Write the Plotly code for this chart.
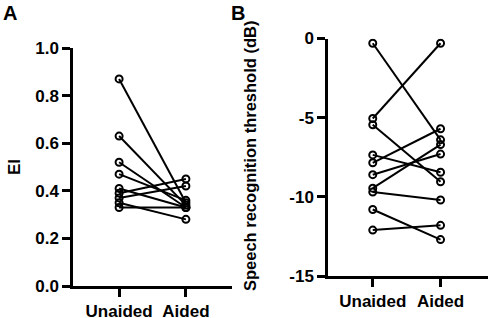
import plotly.graph_objects as go

conditions = ["Unaided", "Aided"]

# Panel A: EI per subject
ei_unaided = [0.87, 0.63, 0.52, 0.47, 0.41, 0.39, 0.37, 0.35, 0.33]
ei_aided = [0.35, 0.34, 0.33, 0.36, 0.33, 0.45, 0.42, 0.28, 0.33]

# Panel B: Speech recognition threshold (dB) per subject
srt_unaided = [-0.3, -5.05, -5.45, -7.35, -7.85, -8.6, -9.45, -9.7, -10.8, -12.1]
srt_aided = [-6.4, -0.3, -9.05, -8.45, -5.7, -7.3, -6.7, -10.2, -12.7, -11.8]

ei_ticks = [0, 0.2, 0.4, 0.6, 0.8, 1.0]
srt_ticks = [0, -5, -10, -15]

W, H = 489, 318
FONT = "Liberation Sans, Arial, sans-serif"

fig = go.Figure()

marker = dict(symbol="circle-open", size=7, color="black", line=dict(width=2, color="black"))

for u, a in zip(ei_unaided, ei_aided):
    fig.add_trace(go.Scatter(x=conditions, y=[u, a], mode="lines+markers",
                             line=dict(color="black", width=2), marker=marker,
                             xaxis="x", yaxis="y", showlegend=False))
for u, a in zip(srt_unaided, srt_aided):
    fig.add_trace(go.Scatter(x=conditions, y=[u, a], mode="lines+markers",
                             line=dict(color="black", width=2), marker=marker,
                             xaxis="x2", yaxis="y2", showlegend=False))

def px_x(p):
    return p / W

def px_y(p):
    return (H - p) / H

tickfont = dict(family=FONT, size=17, color="black")
axis_common = dict(showline=True, linecolor="black", linewidth=2.5, ticks="outside",
                   tickwidth=2.5, tickcolor="black", ticklen=8, showgrid=False,
                   zeroline=False, automargin=False, tickfont=tickfont)

xticktext = ["<b>%s</b>" % c for c in conditions]

def label(text, x, y, size, angle=0):
    return dict(text=text, x=px_x(x), y=px_y(y), xref="paper", yref="paper",
                xanchor="center", yanchor="middle", showarrow=False, textangle=angle,
                font=dict(family=FONT, size=size, color="black"))

fig.update_layout(
    width=W, height=H,
    margin=dict(l=0, r=0, t=0, b=0),
    paper_bgcolor="white", plot_bgcolor="white",
    font=dict(family=FONT, color="black"),
    xaxis=dict(domain=[px_x(73), px_x(232)], type="category", range=[-0.69, 1.69],
               tickvals=conditions, ticktext=xticktext, anchor="y", **axis_common),
    yaxis=dict(domain=[px_y(286), px_y(48)], range=[0, 1.0], tickvals=ei_ticks,
               ticktext=["<b>%.1f</b>" % v for v in ei_ticks], anchor="x", **axis_common),
    xaxis2=dict(domain=[px_x(328), px_x(488)], type="category", range=[-0.66, 1.7],
                tickvals=conditions, ticktext=xticktext, anchor="y2", **axis_common),
    yaxis2=dict(domain=[px_y(276), px_y(38.5)], range=[-15, 0], tickvals=srt_ticks,
                ticktext=["<b>%d</b>" % v for v in srt_ticks], anchor="x2", **axis_common),
    annotations=[
        label("<b>A</b>", 10, 12.5, 20),
        label("<b>B</b>", 238, 12.5, 20),
        label("<b>EI</b>", 14, 167, 17, -90),
        label("<b>Speech recognition threshold (dB)</b>", 250, 156, 16.5, -90),
    ],
)

fig.write_html("out.html", config={"displayModeBar": False},
               post_script="document.body.style.margin='0';document.body.style.overflow='hidden';")
